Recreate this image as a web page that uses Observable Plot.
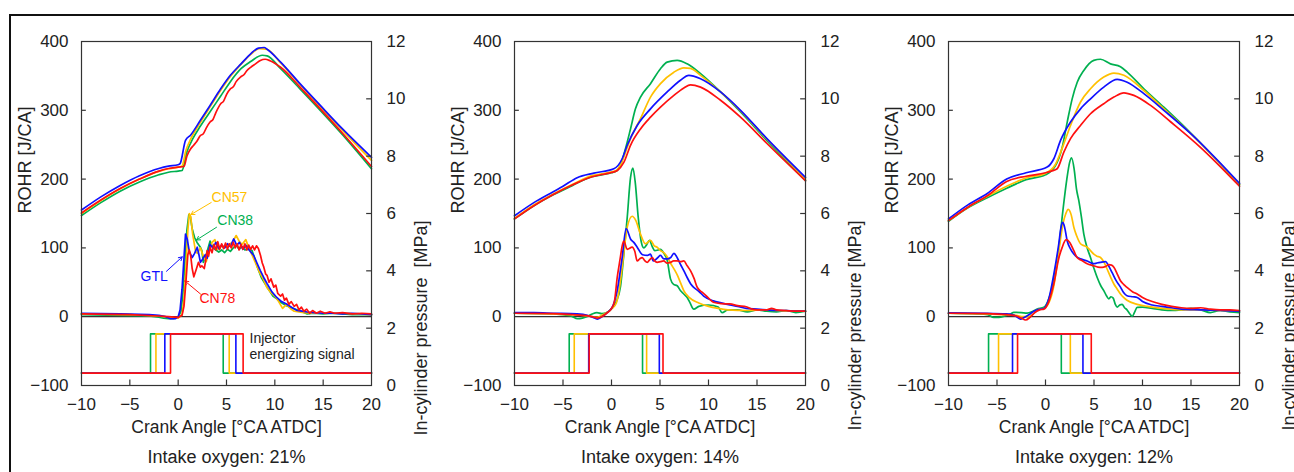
<!DOCTYPE html>
<html><head><meta charset="utf-8">
<script src="https://cdn.jsdelivr.net/npm/d3@7"></script>
<script src="https://cdn.jsdelivr.net/npm/@observablehq/plot@0.6"></script>
<style>
body{margin:0;background:#fff;}
#wrap{position:relative;width:1294px;height:472px;overflow:hidden;background:#fff;font-family:"Liberation Sans",Arial,Helvetica,sans-serif;}
#wrap svg{position:absolute;top:0;}
#frame{position:absolute;left:9px;top:14px;width:1300px;height:480px;border-top:2px solid #111;border-left:2px solid #111;pointer-events:none;z-index:10;}
</style></head><body><div id="wrap"><div id="frame"></div></div>
<script>
// ---------------- data ----------------
const fuels = ["CN38", "CN57", "GTL", "CN78"];
const fuelColors = ["#00b050", "#ffc000", "#1010ff", "#ff1010"];
const xTicks = [-10, -5, 0, 5, 10, 15, 20];
const yTicks = [-100, 0, 100, 200, 300, 400];
const pTicks = [0, 2, 4, 6, 8, 10, 12];
const captions = ["Intake oxygen: 21%", "Intake oxygen: 14%", "Intake oxygen: 12%"];
const xLabel = "Crank Angle [°CA ATDC]";
const yLabel = "ROHR [J/CA]";
const pLabels = ["In-cylinder pressure\u00a0 [MPa]", "In-cylinder pressure [MPa]", "In-cylinder pressure [MPa]"];
const injLevels = [-82, -25]; // low, high (schematic signal, ROHR units)

// injector energizing start/end [°CA] in order CN38, CN57, GTL, CN78
const inj21_start = [-2.86, -2.3, -1.38, -0.79];
const inj21_end = [4.66, 5.28, 5.97, 6.72];
const inj14_start = [-4.36, -3.84, -2.35, -2.3];
const inj14_end = [3.2, 3.62, 4.93, 5.31];
const inj12_start = [-5.87, -4.84, -3.4, -2.88];
const inj12_end = [1.63, 2.56, 3.86, 4.72];

// ---- 21% O2: in-cylinder pressure [MPa]
const p21_CN38 = [[-10,5.93],[-8,6.38],[-6,6.78],[-4,7.1],[-2,7.35],[-1,7.44],[0,7.48],[0.4,7.5],[0.9,8.15],[1.5,8.6],[2.3,9.05],[3.3,9.55],[4.4,10.1],[5.4,10.6],[6.5,11.05],[7.5,11.3],[8.7,11.52],[9.2,11.5],[10.6,11.05],[12.6,10.35],[14.7,9.6],[17,8.75],[20,7.56]];
const p21_CN57 = [[-10,6.0],[-8,6.45],[-6,6.86],[-4,7.2],[-2,7.47],[-1,7.56],[0,7.62],[0.4,7.66],[0.8,8.2],[1.3,8.6],[2.3,9.18],[3.3,9.72],[4.4,10.3],[5.4,10.78],[6.5,11.2],[7.5,11.55],[8.4,11.75],[9.2,11.72],[10.6,11.25],[12.6,10.5],[14.7,9.73],[17,8.9],[20,7.85]];
const p21_GTL = [[-10,6.12],[-8,6.58],[-6,6.98],[-4,7.32],[-2,7.57],[-1,7.65],[0,7.7],[0.2,7.74],[0.76,8.55],[1.3,8.74],[2.3,9.25],[3.3,9.77],[4.4,10.35],[5.4,10.82],[6.5,11.22],[7.5,11.57],[8.3,11.77],[8.9,11.79],[9.2,11.73],[10.6,11.28],[12.6,10.53],[14.7,9.77],[17,8.95],[20,7.96]];
const p21_CN78 = [[-10,6.02],[-8,6.47],[-6,6.87],[-4,7.2],[-2,7.48],[-1,7.57],[0,7.62],[0.6,7.64],[0.9,8.0],[1.3,8.26],[1.6,8.38],[1.9,8.5],[2.3,8.72],[2.6,8.78],[2.9,8.98],[3.3,9.19],[3.6,9.28],[3.9,9.52],[4.4,9.83],[4.7,9.92],[5.0,10.15],[5.4,10.35],[5.7,10.42],[6.0,10.6],[6.45,10.76],[6.8,10.84],[7.1,10.98],[7.5,11.1],[8.0,11.22],[8.5,11.34],[9.0,11.38],[9.5,11.33],[10.6,11.1],[12.6,10.41],[14.7,9.65],[17,8.8],[20,7.64]];
// ---- 21% O2: ROHR [J/CA]
const r21_CN38 = [[-10,3],[-6,2],[-3,1],[-2,-0.5],[-1.5,-2],[-1,-3],[-0.5,-3],[0,-1],[0.3,8],[0.5,35],[0.7,80],[0.9,125],[1.1,148],[1.25,146],[1.45,128],[1.7,115],[1.95,108],[2.3,101],[2.45,96],[2.6,79],[2.85,88],[3.1,100],[3.3,110],[3.6,100],[3.9,97],[4.2,94],[4.5,97],[4.8,93],[5.1,98],[5.4,95],[5.7,100],[6.0,104],[6.3,98],[6.6,102],[6.9,97],[7.3,98],[7.65,96],[7.9,85],[8.2,72],[8.6,57],[9.2,43],[9.8,30],[10.2,26],[10.6,21],[11.2,16],[12,11.5],[12.7,8],[13.35,4],[14,5],[15,4],[16,5],[18,3],[20,3]];
const r21_CN57 = [[-10,4],[-5,3],[-2,1],[-1,-1],[0,-2],[0.4,3],[0.6,25],[0.8,70],[1.0,125],[1.15,150],[1.3,145],[1.5,120],[1.8,95],[2.0,92],[2.3,100],[2.6,88],[2.9,80],[3.2,95],[3.5,108],[3.8,112],[4.1,98],[4.4,103],[4.8,100],[5.2,105],[5.6,108],[6.0,118],[6.3,110],[6.6,105],[7.0,112],[7.3,100],[7.7,88],[8.0,78],[8.4,65],[8.8,55],[9.2,42],[9.6,35],[10.0,30],[10.4,22],[10.8,12],[11.2,18],[11.6,12],[12,8],[13,6],[14,5],[15,5],[17,5],[20,3]];
const r21_GTL = [[-10,5],[-6,4],[-3,3],[-2,2],[-1.3,0],[-0.8,-3],[-0.3,-3],[0,0],[0.2,10],[0.4,40],[0.6,85],[0.76,120],[0.95,112],[1.15,95],[1.45,86],[1.7,92],[1.97,101],[2.15,90],[2.3,79],[2.55,84],[2.8,90],[3.0,85],[3.3,105],[3.6,100],[3.9,108],[4.2,99],[4.5,104],[4.8,100],[5.1,106],[5.4,102],[5.75,113],[6.05,104],[6.35,108],[6.7,98],[7.0,104],[7.4,96],[7.82,89],[8.15,78],[8.5,67],[8.85,57],[9.2,48],[9.7,36],[10.2,28],[10.7,22],[11.2,18.5],[11.8,13],[12.3,9],[12.8,8],[13.35,6.8],[14,6],[15,5],[16,5],[17,4],[18,5],[20,3]];
const r21_CN78 = [[-10,4],[-5,3],[-2,1],[-1,0],[0,-1],[0.4,2],[0.6,15],[0.8,50],[1.0,90],[1.15,97],[1.3,88],[1.45,70],[1.62,58],[1.85,68],[2.1,79],[2.3,72],[2.45,74],[2.7,70],[2.85,82],[3.0,96],[3.15,88],[3.3,101],[3.5,93],[3.7,105],[3.9,97],[4.1,109],[4.3,98],[4.5,106],[4.7,99],[4.9,107],[5.1,98],[5.3,106],[5.5,100],[5.7,108],[5.9,100],[6.1,106],[6.3,97],[6.5,105],[6.7,98],[6.9,106],[7.1,97],[7.3,104],[7.5,98],[7.7,103],[7.9,97],[8.1,103],[8.3,99],[8.52,89],[8.7,78],[8.86,72],[9.05,62],[9.2,60],[9.4,50],[9.6,55],[9.89,43],[10.1,46],[10.3,34],[10.6,30],[10.8,33],[11.0,24],[11.2,27],[11.45,18],[11.7,22],[12.0,15],[12.25,18],[12.5,10],[12.75,14],[13.0,8],[13.3,11],[13.6,5],[13.9,9],[14.3,5],[14.7,8],[15.2,5],[15.7,7],[16.2,5],[17,6],[18,4],[19,5],[20,4]];

// ---- 14% O2
const p14_CN38 = [[-10,5.81],[-8,6.27],[-6,6.65],[-4,6.98],[-3,7.15],[-2,7.28],[-1,7.35],[0,7.42],[0.5,7.48],[1,7.75],[1.44,8.26],[1.96,8.95],[2.47,9.65],[2.99,10.06],[4.02,10.53],[5.05,11.05],[5.74,11.28],[6.77,11.34],[7.8,11.22],[9.18,10.88],[11.24,10.24],[13.3,9.54],[16,8.55],[20,7.15]];
const p14_CN57 = [[-10,5.83],[-8,6.3],[-6,6.68],[-4,7.02],[-2,7.32],[-1,7.38],[0,7.45],[0.5,7.5],[1,7.75],[1.62,8.3],[1.96,8.61],[2.99,9.31],[4.02,10.06],[5.05,10.53],[6.43,10.93],[7.46,11.08],[8.14,11.06],[9.18,10.82],[11.24,10.24],[13.3,9.58],[16,8.6],[20,7.2]];
const p14_GTL = [[-10,5.92],[-8,6.38],[-6,6.76],[-5,6.95],[-3.54,7.25],[-1.82,7.41],[0.24,7.56],[1.1,7.91],[1.62,8.38],[2.65,9.07],[4.02,9.65],[5.74,10.24],[7.11,10.65],[7.97,10.82],[9.18,10.7],[11.24,10.24],[13.3,9.6],[16,8.62],[20,7.26]];
const p14_CN78 = [[-10,5.81],[-8,6.27],[-6,6.66],[-4,7.0],[-2,7.28],[-1,7.36],[0,7.43],[0.6,7.5],[1.27,7.78],[1.96,8.38],[2.99,8.95],[4.02,9.36],[5.05,9.71],[6.43,10.12],[7.46,10.38],[8.14,10.49],[9.18,10.41],[11.24,9.95],[13.3,9.36],[16,8.45],[20,7.14]];
const r14_CN38 = [[-10,5],[-6,4],[-4.2,1],[-3.5,-3],[-3,-2],[-2.5,0.5],[-2,4],[-1.5,6],[-1,4.5],[-0.5,6],[0,12],[0.5,22],[0.93,44],[1.3,95],[1.62,144],[1.96,202],[2.2,216],[2.45,195],[2.75,145],[3.05,110],[3.33,100],[3.6,104],[3.92,111],[4.2,102],[4.47,96],[4.8,97],[5.05,98],[5.4,92],[5.74,82],[6.08,55],[6.4,47],[6.77,45],[7.1,38],[7.45,33],[7.8,28],[8.1,20],[8.48,11],[9,15],[10,17],[11,14],[11.4,6],[12,10],[13,10],[14,7],[15,10],[16,8],[17,7],[18,9],[19,6],[20,8]];
const r14_CN57 = [[-10,5],[-6,4],[-4,3],[-3,2],[-2,0],[-1.5,-1],[-1,2],[-0.5,6],[0,11],[0.5,20],[0.8,40],[1.1,72],[1.62,130],[2.13,146],[2.5,140],[2.99,120],[3.5,106],[4.02,111],[4.4,103],[4.7,101],[5.05,96],[5.39,93],[5.7,88],[6.08,78],[6.5,68],[6.8,60],[7.1,50],[7.45,38],[8,28],[9,20],[10,15],[11,12],[12,10],[14,9],[16,10],[18,8],[20,8]];
const r14_GTL = [[-10,6],[-8,5.8],[-6,5],[-3.54,4],[-2.5,2],[-1.9,-1],[-1.47,-3.4],[-1,0],[-0.44,6],[0.07,13.6],[0.59,38],[1.1,86],[1.51,128],[1.96,113],[2.3,108],[2.65,101],[3.2,90],[3.7,89],[4.02,91],[4.3,81],[4.7,85],[5.05,89],[5.4,84],[5.74,84],[6.1,86],[6.43,92],[6.8,85],[7.11,76],[7.45,67],[7.8,57],[8.15,48],[8.48,42.6],[9,37],[9.5,30],[10.5,23],[11.3,20],[12.2,17],[13,15],[13.9,12],[15,11],[16,10],[17,9],[18,9],[19,8],[20,8]];
const r14_CN78 = [[-10,5],[-6,4.5],[-4,3],[-3,2],[-2,0],[-1.5,-2],[-1,0],[-0.5,5],[0,12],[0.3,22],[0.59,57],[0.9,85],[1.1,103],[1.27,110],[1.62,98],[2.13,101],[2.4,95],[2.65,81],[2.9,84],[3.16,86],[3.4,82],[3.68,79],[3.95,83],[4.2,86],[4.45,81],[4.7,79],[5.05,80],[5.39,81],[5.7,78],[6.08,79],[6.4,81],[6.77,81],[7.1,80],[7.45,81],[7.8,74],[8.14,67],[8.5,56],[8.83,43],[9.3,36],[9.8,30],[10.5,21],[11.3,19],[12.2,18.5],[13,16],[13.9,14.5],[14.5,11],[15,10],[16,10],[16.5,12],[17,10],[18,9],[19,8],[20,8]];

// ---- 12% O2
const p12_CN38 = [[-10,5.73],[-8,6.2],[-6,6.55],[-4,6.88],[-2,7.18],[0,7.35],[1,7.65],[1.72,8.3],[2.24,9.19],[2.75,10.0],[3.27,10.58],[3.95,10.99],[4.98,11.34],[5.67,11.38],[6.7,11.22],[7.73,11.12],[8.42,10.93],[10.14,10.35],[12.2,9.71],[15,8.8],[20,7.0]];
const p12_CN57 = [[-10,5.75],[-8,6.22],[-6,6.6],[-4,6.95],[-2,7.24],[0,7.4],[1,7.7],[1.8,8.35],[2.58,9.07],[3.61,9.89],[4.64,10.35],[6.01,10.76],[7.05,10.9],[8.08,10.82],[10.14,10.29],[12.2,9.65],[15,8.78],[20,7.02]];
const p12_GTL = [[-10,5.81],[-8,6.3],[-6,6.7],[-4,7.2],[-2,7.42],[0.17,7.62],[0.86,7.91],[1.55,8.55],[2.58,9.19],[3.61,9.65],[4.64,10.0],[6.01,10.41],[7.39,10.68],[8.42,10.58],[10.14,10.18],[12.2,9.6],[15,8.78],[20,7.05]];
const p12_CN78 = [[-10,5.75],[-8,6.22],[-6,6.62],[-4,7.12],[-2,7.3],[0,7.42],[0.6,7.48],[1.2,7.56],[1.89,8.14],[2.58,8.61],[3.61,9.07],[4.64,9.48],[6.01,9.83],[7.05,10.06],[8.08,10.21],[9.11,10.12],[10.83,9.77],[12.89,9.2],[16,8.3],[20,6.95]];
const r12_CN38 = [[-10,5],[-7,4],[-6,3],[-5.33,-1],[-4.8,-1],[-4.2,1],[-3.6,4],[-3.27,6.3],[-2.5,6],[-1.9,5.3],[-1.3,8],[-0.86,11],[-0.17,13.6],[0.34,26],[0.86,55],[1.37,100],[1.8,155],[2.2,200],[2.5,225],[2.68,231],[2.95,215],[3.2,185],[3.43,169],[3.7,145],[3.95,120],[4.3,100],[4.64,86],[5.0,70],[5.33,57],[5.7,45],[6.01,38],[6.3,30],[6.53,26],[6.75,29],[6.98,27],[7.2,18],[7.39,14],[7.65,17],[7.9,18],[8.15,13],[8.4,10],[8.7,4],[8.94,0.5],[9.2,7],[9.45,13.6],[10,14],[11,12],[12,10],[13,9],[14,10],[15,12],[16,10],[17,6],[18,9],[19,7],[20,6]];
const r12_CN57 = [[-10,5],[-6,4],[-4,3],[-3,2],[-2.3,0],[-1.8,0],[-1.2,5],[-0.86,10],[-0.17,12],[0.34,20],[0.86,45],[1.37,95],[1.8,135],[2.1,150],[2.34,156],[2.65,148],[2.92,130],[3.2,118],[3.61,106],[4.0,103],[4.3,101],[4.64,96],[4.98,91],[5.3,88],[5.67,86],[6.0,80],[6.36,69],[6.7,58],[7.05,47.5],[7.4,40],[7.73,33],[8.05,28],[8.4,24],[9.45,18],[10.5,15],[12,12],[14,10],[16,10],[18,9],[20,8]];
const r12_GTL = [[-10,5.5],[-6,5],[-4,4],[-3.2,2],[-2.58,-3.4],[-2.2,-1],[-1.6,4],[-1.2,8],[-0.86,10],[-0.17,12],[0.34,26],[0.86,62],[1.37,106],[1.6,130],[1.79,137],[2.0,128],[2.24,110],[2.6,98],[2.92,91],[3.3,86],[3.61,84],[4.3,81],[4.98,77],[5.3,78],[5.67,79],[6.19,80],[6.5,74],[6.87,64],[7.3,52],[7.73,43],[8.05,35],[8.4,30.5],[9,29],[9.45,28],[10,22],[11,17],[12,15],[13,13],[14,11],[16,10],[18,9],[20,8]];
const r12_CN78 = [[-10,5],[-6,4.5],[-4,3],[-3,1],[-2.5,-2],[-2.06,-4.8],[-1.6,-1],[-1.1,6],[-0.6,10],[-0.17,11],[0.34,22],[0.86,48],[1.37,85],[1.7,100],[2.13,112],[2.5,108],[2.92,96],[3.26,86],[3.7,82],[4.3,77],[4.98,74],[5.4,72],[5.84,71.7],[6.2,73],[6.53,75.6],[6.8,75],[7.05,71.7],[7.4,62],[7.73,52.3],[8.05,47],[8.4,42.6],[9,36],[9.45,33],[10,28],[11,22],[12,18],[13,15],[14,13],[15,12],[16,13],[17,11],[18,10],[19,10],[20,9]];

// callouts on first panel (label, text position, arrow from -> to), data units
const calloutLabels = ["CN57", "CN38", "GTL", "CN78"];
const calloutColors = ["#ffc000", "#00b050", "#1010ff", "#ff1010"];
const calloutX = [5.31, 5.9, -2.48, 4.05];
const calloutY = [173, 139.5, 58, 27];
const arrowX1 = [3.42, 3.97, -1.21, 2.31];
const arrowY1 = [166, 130, 66, 33];
const arrowX2 = [1.33, 1.9, 0.42, 0.69];
const arrowY2 = [148.5, 111.5, 87, 52];
const injText = "Injector\nenergizing signal";
const injTextPos = [7.38, -42.5];

// -------------- rendering --------------
const p2r = p => -100 + p * 500 / 12;   // MPa -> ROHR axis position
const r2p = r => (r + 100) * 12 / 500;
const minus = d => (d < 0 ? "\u2212" + Math.abs(d) : String(d));
const FONT = "'Liberation Sans', Arial, Helvetica, sans-serif";

function series(arrs, conv) {
  return fuels.flatMap((f, i) => arrs[i].map(([x, v]) => ({x, y: conv ? conv(v) : v, fuel: f})));
}
function injSeries(starts, ends) {
  const [lo, hi] = injLevels;
  return fuels.flatMap((f, i) => [[-10, lo], [starts[i], lo], [starts[i], hi], [ends[i], hi], [ends[i], lo], [20, lo]].map(([x, y]) => ({x, y, fuel: f})));
}

const panels = [
  {left: 0, width: 430, ml: 81, mr: 59, pres: [p21_CN38, p21_CN57, p21_GTL, p21_CN78], rohr: [r21_CN38, r21_CN57, r21_GTL, r21_CN78], s: inj21_start, e: inj21_end, callouts: true, rohrCurve: "linear"},
  {left: 430, width: 430, ml: 84, mr: 55, pres: [p14_CN38, p14_CN57, p14_GTL, p14_CN78], rohr: [r14_CN38, r14_CN57, r14_GTL, r14_CN78], s: inj14_start, e: inj14_end, rohrCurve: "monotone-x"},
  {left: 860, width: 434, ml: 88, mr: 55, pres: [p12_CN38, p12_CN57, p12_GTL, p12_CN78], rohr: [r12_CN38, r12_CN57, r12_GTL, r12_CN78], s: inj12_start, e: inj12_end, rohrCurve: "monotone-x"}
];

const wrap = document.getElementById("wrap");
panels.forEach((P, k) => {
  const lineOpts = {x: "x", y: "y", z: "fuel", stroke: "fuel", strokeWidth: 1.7};
  const marks = [
    Plot.ruleY([0], {stroke: "#333", strokeWidth: 1.2}),
    Plot.line(injSeries(P.s, P.e), {...lineOpts, strokeWidth: 1.6, curve: "linear"}),
    Plot.line(series(P.pres, p2r), {...lineOpts, curve: "monotone-x"}),
    Plot.line(series(P.rohr), {...lineOpts, curve: P.rohrCurve}),
    // inward tick marks
    Plot.ruleY([100, 200, 300], {y: d => d, x1: () => -10, x2: () => -9.5, stroke: "#333", strokeWidth: 1.2}),
    Plot.ruleY([2, 4, 6, 8, 10].map(p2r), {y: d => d, x1: () => 19.5, x2: () => 20, stroke: "#333", strokeWidth: 1.2}),
    Plot.ruleX([-5, 0, 5, 10, 15], {x: d => d, y1: () => -100, y2: () => -92, stroke: "#333", strokeWidth: 1.2}),
    Plot.frame({stroke: "#333", strokeWidth: 1.2}),
    Plot.axisX({ticks: xTicks, tickSize: 0, tickPadding: 12, tickFormat: minus, label: null, fontSize: 17}),
    Plot.axisY({ticks: yTicks, tickSize: 0, tickPadding: 13, tickFormat: minus, label: null, fontSize: 17}),
    Plot.axisY({anchor: "right", ticks: pTicks.map(p2r), tickSize: 0, tickPadding: 15, tickFormat: d => String(Math.round(r2p(d))), label: null, fontSize: 17}),
    Plot.text([yLabel], {frameAnchor: "left", rotate: -90, dx: -56.5, fontSize: 18, fill: "#222"}),
    Plot.text([pLabels[k]], {frameAnchor: "right", rotate: -90, dx: 50, dy: 7, fontSize: 18, fill: "#222"}),
    Plot.text([xLabel], {frameAnchor: "bottom", lineAnchor: "middle", dy: 42, fontSize: 17.5, fill: "#222"}),
    Plot.text([captions[k]], {frameAnchor: "bottom", lineAnchor: "middle", dy: 72, fontSize: 18, fill: "#222"})
  ];
  if (P.callouts) {
    const idx = calloutLabels.map((_, i) => i);
    marks.push(
      Plot.text([injText], {x: () => injTextPos[0], y: () => injTextPos[1], textAnchor: "start", lineHeight: 1.12, fontSize: 14, fill: "#222"}),
      Plot.arrow(idx, {x1: i => arrowX1[i], y1: i => arrowY1[i], x2: i => arrowX2[i], y2: i => arrowY2[i], stroke: i => calloutColors[i], strokeWidth: 1, headLength: 6}),
      Plot.text(idx, {x: i => calloutX[i], y: i => calloutY[i], text: i => calloutLabels[i], fill: i => calloutColors[i], fontSize: 14})
    );
  }
  const svg = Plot.plot({
    width: P.width, height: 472,
    marginTop: 41, marginBottom: 87, marginLeft: P.ml, marginRight: P.mr,
    x: {domain: [-10, 20]},
    y: {domain: [-100, 400]},
    color: {domain: fuels, range: fuelColors},
    style: {fontFamily: FONT, fontSize: "17px", color: "#222", background: "transparent", overflow: "visible"},
    marks
  });
  svg.style.left = P.left + "px";
  wrap.insertBefore(svg, document.getElementById("frame"));
});
</script></body></html>
